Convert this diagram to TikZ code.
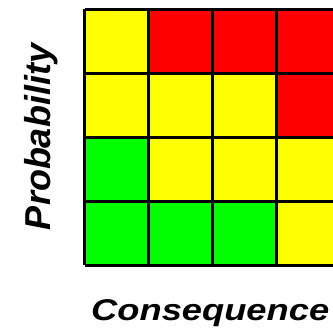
\documentclass[tikz,border=0pt]{standalone}
\usepackage{fontspec}
\usepackage{graphicx}
\setmainfont{Liberation Sans}
\definecolor{riskG}{RGB}{0,255,0}
\definecolor{riskY}{RGB}{255,255,0}
\definecolor{riskR}{RGB}{255,0,0}
\tikzset{
  gridline/.style={draw=black, line width=3pt},
  axislabel/.style={inner sep=0pt},
}
\begin{document}
\begin{tikzpicture}[x=1pt,y=1pt]
\useasboundingbox (0,0) rectangle (333,332);
\clip (0,0) rectangle (333,332);
% risk matrix: rows listed from top to bottom
\foreach \row/\cols in {0/{riskY,riskR,riskR,riskR},
                        1/{riskY,riskY,riskY,riskR},
                        2/{riskG,riskY,riskY,riskY},
                        3/{riskG,riskG,riskG,riskY}}{
  \foreach \c [count=\i from 0] in \cols {
    \fill[\c] (84.5+64*\i,322.5-64*\row) rectangle ++(64,-64);
  }
}
\foreach \k in {0,...,4}{
  \draw[gridline] (84.5+64*\k,66.5) -- (84.5+64*\k,322.5);
  \draw[gridline] (84.5,66.5+64*\k) -- (340.5,66.5+64*\k);
}
\node[axislabel, anchor=base west,
      font=\fontsize{30}{30}\selectfont\bfseries\itshape] (cons) at (91,11)
  {\scalebox{1.21}[1]{Consequence}};
\node[axislabel, rotate=90, anchor=base,
      font=\fontsize{36}{36}\selectfont\bfseries\itshape] (prob) at (50,195)
  {Probability};
\end{tikzpicture}
\end{document}
